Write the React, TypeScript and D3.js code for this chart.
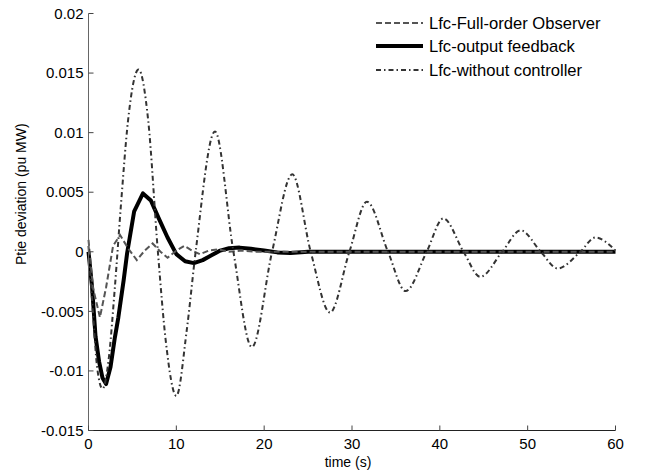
import React from "react";
import * as d3 from "d3";

// Tie-line power deviation responses for three LFC designs
const observerTime = [0, 0.5, 1.3, 2.0, 2.8, 3.6, 4.5, 5.5, 6.4, 7.3, 8.2, 9.0, 10.0, 10.9, 11.8, 12.7, 13.7, 14.8, 16.0, 17.5, 19.0, 21.0, 30.0, 40.0, 50.0, 60.0];
const observerValue = [0.001, -0.003, -0.0055, -0.003, 0.0005, 0.0014, 0.0003, -0.0007, 0.0001, 0.0007, 0.0, -0.0005, 0.0001, 0.0005, 0.0001, -0.0002, 0.0001, 0.0002, 0.0, 0.0001, 0.0, 0.0, 0.0, 0.0, 0.0, 0.0];

const feedbackTime = [0, 0.4, 0.8, 1.2, 1.6, 2.0, 2.5, 3.0, 3.4, 4.0, 4.4, 5.2, 6.2, 7.1, 8.0, 9.0, 10.0, 11.0, 12.0, 13.0, 14.0, 15.0, 16.0, 17.2, 18.5, 20.0, 21.5, 23.0, 25.0, 30.0, 40.0, 50.0, 60.0];
const feedbackValue = [0.0, -0.0029, -0.0071, -0.0092, -0.0106, -0.0111, -0.0097, -0.0072, -0.0055, -0.0024, -0.0001, 0.0034, 0.0049, 0.0043, 0.0028, 0.0012, -0.0002, -0.0008, -0.00095, -0.0007, -0.0003, 0.0001, 0.0003, 0.00035, 0.00025, 0.0001, -0.00005, -0.0001, 0.0, 0.0, 0.0, 0.0, 0.0];

const openLoopTime = [0, 0.5, 1.0, 1.6, 2.3, 3.0, 3.7, 4.5, 5.7, 6.8, 7.9, 8.8, 10.0, 11.2, 12.2, 14.4, 16.5, 18.6, 20.9, 23.2, 25.3, 27.5, 29.7, 31.7, 34.1, 36.1, 38.5, 40.4, 42.7, 44.6, 47.1, 49.2, 51.5, 53.4, 56.0, 57.7, 60.0];
const openLoopValue = [0.0005, -0.005, -0.0098, -0.0115, -0.009, -0.003, 0.004, 0.011, 0.0153, 0.011, 0.0, -0.0075, -0.0121, -0.0065, 0.0, 0.0101, 0.0, -0.008, 0.0, 0.0065, 0.0, -0.0051, 0.0, 0.0042, 0.0, -0.0033, 0.0, 0.0028, 0.0, -0.0021, 0.0, 0.0018, 0.0, -0.0014, 0.0, 0.0012, 0.0001];

const xTicks = [0, 10, 20, 30, 40, 50, 60];
const yTicks = [0.02, 0.015, 0.01, 0.005, 0, -0.005, -0.01, -0.015];
const yTickLabels = ["0.02", "0.015", "0.01", "0.005", "0", "-0.005", "-0.01", "-0.015"];

const legendLabels = ["Lfc-Full-order Observer", "Lfc-output feedback", "Lfc-without controller"];

const W = 646;
const H = 474;
const left = 88.5;
const right = 615.5;
const top = 13.5;
const bottom = 430.5;
const FONT = "Arial, 'Liberation Sans', Helvetica, sans-serif";

export default function App() {
  const x = d3.scaleLinear().domain([0, 60]).range([left, right]);
  const y = d3.scaleLinear().domain([-0.015, 0.02]).range([bottom, top]);

  const linear = d3
    .line<[number, number]>()
    .x((d) => x(d[0]))
    .y((d) => y(d[1]));
  const smooth = d3
    .line<[number, number]>()
    .x((d) => x(d[0]))
    .y((d) => y(d[1]))
    .curve(d3.curveMonotoneX);

  const zip = (t: number[], v: number[]) => t.map((ti, i) => [ti, v[i]] as [number, number]);

  const styles = [
    { stroke: "#555", width: 2, dash: "6,3" },
    { stroke: "#000", width: 4, dash: undefined as string | undefined },
    { stroke: "#333", width: 2, dash: "5,3,1.5,3" },
  ];

  const legendRows = [23, 46, 70];

  return (
    <svg
      width={W}
      height={H}
      style={{ position: "fixed", left: 0, top: 0, background: "#fff" }}
      fontFamily={FONT}
    >
      <rect x={0} y={0} width={W} height={H} fill="#fff" />

      {/* series */}
      <path d={linear(zip(feedbackTime, feedbackValue)) || ""} fill="none" stroke={styles[1].stroke} strokeWidth={styles[1].width} strokeLinejoin="round" />
      <path d={linear(zip(observerTime, observerValue)) || ""} fill="none" stroke={styles[0].stroke} strokeWidth={styles[0].width} strokeDasharray={styles[0].dash} />
      <path d={smooth(zip(openLoopTime, openLoopValue)) || ""} fill="none" stroke={styles[2].stroke} strokeWidth={styles[2].width} strokeDasharray={styles[2].dash} />

      {/* axes */}
      <line x1={left} x2={left} y1={top} y2={bottom} stroke="#666" strokeWidth={1} />
      <line x1={left} x2={right} y1={bottom} y2={bottom} stroke="#222" strokeWidth={1} />
      {yTicks.map((t, i) => (
        <g key={"y" + i}>
          <line x1={left} x2={left + 5} y1={y(t)} y2={y(t)} stroke="#444" />
          <text x={left - 5} y={y(t)} dy="0.35em" textAnchor="end" fontSize={15} fill="#000">
            {yTickLabels[i]}
          </text>
        </g>
      ))}
      {xTicks.map((t, i) => (
        <g key={"x" + i}>
          <line x1={x(t)} x2={x(t)} y1={bottom} y2={bottom - 5} stroke="#444" />
          <text x={x(t)} y={449} textAnchor="middle" fontSize={15} fill="#000">
            {t}
          </text>
        </g>
      ))}

      <text x={348} y={467} textAnchor="middle" fontSize={14} fill="#000">
        time (s)
      </text>
      <text
        transform={`translate(26, 265) rotate(-90)`}
        textAnchor="start"
        fontSize={14}
        fill="#000"
      >
        Ptie deviation (pu MW)
      </text>

      {/* legend */}
      {legendLabels.map((label, i) => (
        <g key={"l" + i}>
          <line
            x1={376}
            x2={423}
            y1={legendRows[i]}
            y2={legendRows[i]}
            stroke={styles[i].stroke}
            strokeWidth={styles[i].width}
            strokeDasharray={styles[i].dash}
          />
          <text x={429} y={legendRows[i]} dy="0.35em" fontSize={16.6} fill="#000">
            {label}
          </text>
        </g>
      ))}
    </svg>
  );
}
